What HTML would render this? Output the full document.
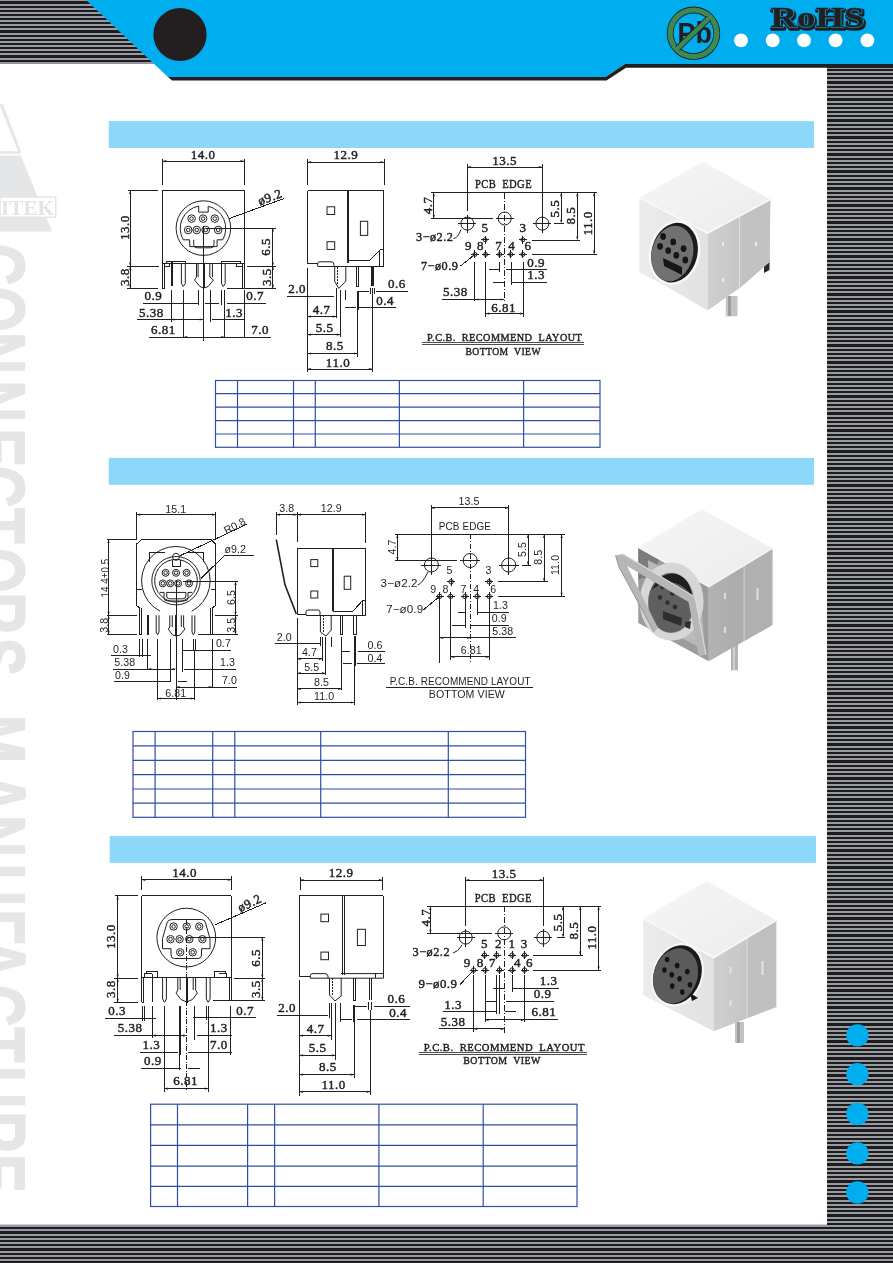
<!DOCTYPE html>
<html><head><meta charset="utf-8"><title>Mini DIN Connectors</title>
<style>
html,body{margin:0;padding:0;background:#fff;}
body{width:893px;height:1263px;overflow:hidden;position:relative;font-family:"Liberation Serif",serif;}
svg{position:absolute;left:0;top:0;display:block;will-change:transform;}
.d{stroke:#231f20;stroke-width:1;fill:none;}
.d path{shape-rendering:crispEdges;}
.t{font-family:"Liberation Serif",serif;font-weight:normal;font-size:13px;fill:#231f20;stroke:#231f20;stroke-width:0.45px;letter-spacing:0.5px;white-space:pre;}
.s{font-family:"Liberation Sans",sans-serif;font-size:10.6px;fill:#231f20;letter-spacing:0.1px;}
.tb{stroke:#2f4fa6;stroke-width:1.2;fill:none;}
</style></head>
<body>
<svg width="893" height="1263" viewBox="0 0 893 1263">
<defs>
<pattern id="st" x="0" y="0" width="10" height="17" patternUnits="userSpaceOnUse">
<rect width="10" height="17" fill="#201c1d"/>
<rect y="0" width="10" height="2" fill="#959ca3"/>
<rect y="4" width="10" height="2" fill="#959ca3"/>
<rect y="8" width="10" height="2" fill="#959ca3"/>
<rect y="12" width="10" height="2" fill="#959ca3"/>
</pattern>
<pattern id="st2" x="0" y="68" width="10" height="17" patternUnits="userSpaceOnUse">
<rect width="10" height="17" fill="#201c1d"/>
<rect y="0" width="10" height="2" fill="#959ca3"/>
<rect y="4" width="10" height="2" fill="#959ca3"/>
<rect y="8" width="10" height="2" fill="#959ca3"/>
<rect y="12" width="10" height="2" fill="#959ca3"/>
</pattern>
</defs>
<!-- ===== WATERMARK ===== -->
<g fill="#e5e6e8">
<path style="shape-rendering:auto" d="M0,104.2L3,104.2L21,151.2L18,151.2L0,106Z"/>
<rect x="0" y="151.2" width="20.7" height="2.5"/>
<path d="M0,155.5H20.7L52.2,231.6H0Z"/>
<rect x="0" y="197.1" width="55.7" height="20.1" fill="#fff" stroke="#e5e6e8" stroke-width="1.5"/>
<text x="27.5" y="214.5" text-anchor="middle" font-family="Liberation Serif" font-weight="bold" font-size="20" fill="#e3e4e6" textLength="53" lengthAdjust="spacingAndGlyphs">ITEK</text>
<text transform="rotate(90) scale(0.7,1)" x="348.0 409.4 474.1 542.7 611.3 665.1 725.4 782.3 845.6 910.9" y="32.5" font-family="Liberation Sans" font-weight="bold" font-size="84" stroke="#e5e6e8" stroke-width="1.2">CONNECTORS</text>
<text transform="rotate(90) scale(0.7,1)" x="1020.6 1103.3 1164.1 1234.1 1298.4 1339.7 1406.6 1466.9 1522.7 1587.0 1648.4" y="32.5" font-family="Liberation Sans" font-weight="bold" font-size="84" stroke="#e5e6e8" stroke-width="1.2">MANUFACTURE</text>
</g>
<!-- top-left stripes -->
<rect x="0" y="0" width="200" height="63.5" fill="#201c1d"/>
<path fill="#959ca3" d="M0,0H200V1H0ZM0,4H200V6H0ZM0,8H200V10H0ZM0,12H200V14H0ZM0,16H200V18H0ZM0,20H200V22H0ZM0,24H200V26H0ZM0,28H200V30H0ZM0,33H200V35H0ZM0,37H200V39H0ZM0,41H200V43H0ZM0,45H200V47H0ZM0,49H200V51H0ZM0,53H200V55H0ZM0,58H200V60H0ZM0,62H200V63.5H0Z"/>
<!-- right column stripes -->
<rect x="827" y="67" width="66" height="1196" fill="#201c1d"/>
<rect x="0" y="1224.8" width="893" height="38.2" fill="#201c1d"/>
<path fill="#959ca3" d="M827,68H893V69H827ZM827,71H893V73H827ZM827,75H893V77H827ZM827,79H893V81H827ZM827,84H893V86H827ZM827,88H893V90H827ZM827,92H893V94H827ZM827,96H893V98H827ZM827,101H893V103H827ZM827,105H893V107H827ZM827,109H893V111H827ZM827,113H893V115H827ZM827,117H893V119H827ZM827,122H893V124H827ZM827,126H893V128H827ZM827,130H893V132H827ZM827,134H893V136H827ZM827,139H893V141H827ZM827,143H893V145H827ZM827,147H893V149H827ZM827,151H893V153H827ZM827,156H893V158H827ZM827,160H893V162H827ZM827,164H893V166H827ZM827,168H893V170H827ZM827,173H893V175H827ZM827,177H893V179H827ZM827,181H893V183H827ZM827,185H893V187H827ZM827,190H893V192H827ZM827,194H893V196H827ZM827,198H893V200H827ZM827,202H893V204H827ZM827,207H893V209H827ZM827,211H893V213H827ZM827,215H893V217H827ZM827,219H893V221H827ZM827,224H893V226H827ZM827,228H893V230H827ZM827,232H893V234H827ZM827,236H893V238H827ZM827,241H893V243H827ZM827,245H893V247H827ZM827,249H893V251H827ZM827,253H893V255H827ZM827,258H893V260H827ZM827,262H893V264H827ZM827,266H893V268H827ZM827,270H893V272H827ZM827,274H893V276H827ZM827,279H893V281H827ZM827,283H893V285H827ZM827,287H893V289H827ZM827,291H893V293H827ZM827,296H893V298H827ZM827,300H893V302H827ZM827,304H893V306H827ZM827,308H893V310H827ZM827,313H893V315H827ZM827,317H893V319H827ZM827,321H893V323H827ZM827,325H893V327H827ZM827,330H893V332H827ZM827,334H893V336H827ZM827,338H893V340H827ZM827,342H893V344H827ZM827,347H893V349H827ZM827,351H893V353H827ZM827,355H893V357H827ZM827,359H893V361H827ZM827,364H893V366H827ZM827,368H893V370H827ZM827,372H893V374H827ZM827,376H893V378H827ZM827,381H893V383H827ZM827,385H893V387H827ZM827,389H893V391H827ZM827,393H893V395H827ZM827,398H893V400H827ZM827,402H893V404H827ZM827,406H893V408H827ZM827,410H893V412H827ZM827,415H893V417H827ZM827,419H893V421H827ZM827,423H893V425H827ZM827,427H893V429H827ZM827,432H893V434H827ZM827,436H893V438H827ZM827,440H893V442H827ZM827,444H893V446H827ZM827,448H893V450H827ZM827,453H893V455H827ZM827,457H893V459H827ZM827,461H893V463H827ZM827,465H893V467H827ZM827,470H893V472H827ZM827,474H893V476H827ZM827,478H893V480H827ZM827,482H893V484H827ZM827,487H893V489H827ZM827,491H893V493H827ZM827,495H893V497H827ZM827,499H893V501H827ZM827,504H893V506H827ZM827,508H893V510H827ZM827,512H893V514H827ZM827,516H893V518H827ZM827,521H893V523H827ZM827,525H893V527H827ZM827,529H893V531H827ZM827,533H893V535H827ZM827,538H893V540H827ZM827,542H893V544H827ZM827,546H893V548H827ZM827,550H893V552H827ZM827,555H893V557H827ZM827,559H893V561H827ZM827,563H893V565H827ZM827,567H893V569H827ZM827,572H893V574H827ZM827,576H893V578H827ZM827,580H893V582H827ZM827,584H893V586H827ZM827,589H893V591H827ZM827,593H893V595H827ZM827,597H893V599H827ZM827,601H893V603H827ZM827,606H893V608H827ZM827,610H893V612H827ZM827,614H893V616H827ZM827,618H893V620H827ZM827,622H893V624H827ZM827,627H893V629H827ZM827,631H893V633H827ZM827,635H893V637H827ZM827,639H893V641H827ZM827,644H893V646H827ZM827,648H893V650H827ZM827,652H893V654H827ZM827,656H893V658H827ZM827,661H893V663H827ZM827,665H893V667H827ZM827,669H893V671H827ZM827,673H893V675H827ZM827,678H893V680H827ZM827,682H893V684H827ZM827,686H893V688H827ZM827,690H893V692H827ZM827,695H893V697H827ZM827,699H893V701H827ZM827,703H893V705H827ZM827,707H893V709H827ZM827,712H893V714H827ZM827,716H893V718H827ZM827,720H893V722H827ZM827,724H893V726H827ZM827,729H893V731H827ZM827,733H893V735H827ZM827,737H893V739H827ZM827,741H893V743H827ZM827,746H893V748H827ZM827,750H893V752H827ZM827,754H893V756H827ZM827,758H893V760H827ZM827,763H893V765H827ZM827,767H893V769H827ZM827,771H893V773H827ZM827,775H893V777H827ZM827,780H893V782H827ZM827,784H893V786H827ZM827,788H893V790H827ZM827,792H893V794H827ZM827,796H893V798H827ZM827,801H893V803H827ZM827,805H893V807H827ZM827,809H893V811H827ZM827,813H893V815H827ZM827,818H893V820H827ZM827,822H893V824H827ZM827,826H893V828H827ZM827,830H893V832H827ZM827,835H893V837H827ZM827,839H893V841H827ZM827,843H893V845H827ZM827,847H893V849H827ZM827,852H893V854H827ZM827,856H893V858H827ZM827,860H893V862H827ZM827,864H893V866H827ZM827,869H893V871H827ZM827,873H893V875H827ZM827,877H893V879H827ZM827,881H893V883H827ZM827,886H893V888H827ZM827,890H893V892H827ZM827,894H893V896H827ZM827,898H893V900H827ZM827,903H893V905H827ZM827,907H893V909H827ZM827,911H893V913H827ZM827,915H893V917H827ZM827,920H893V922H827ZM827,924H893V926H827ZM827,928H893V930H827ZM827,932H893V934H827ZM827,937H893V939H827ZM827,941H893V943H827ZM827,945H893V947H827ZM827,949H893V951H827ZM827,954H893V956H827ZM827,958H893V960H827ZM827,962H893V964H827ZM827,966H893V968H827ZM827,970H893V972H827ZM827,975H893V977H827ZM827,979H893V981H827ZM827,983H893V985H827ZM827,987H893V989H827ZM827,992H893V994H827ZM827,996H893V998H827ZM827,1000H893V1002H827ZM827,1004H893V1006H827ZM827,1009H893V1011H827ZM827,1013H893V1015H827ZM827,1017H893V1019H827ZM827,1021H893V1023H827ZM827,1026H893V1028H827ZM827,1030H893V1032H827ZM827,1034H893V1036H827ZM827,1038H893V1040H827ZM827,1043H893V1045H827ZM827,1047H893V1049H827ZM827,1051H893V1053H827ZM827,1055H893V1057H827ZM827,1060H893V1062H827ZM827,1064H893V1066H827ZM827,1068H893V1070H827ZM827,1072H893V1074H827ZM827,1077H893V1079H827ZM827,1081H893V1083H827ZM827,1085H893V1087H827ZM827,1089H893V1091H827ZM827,1094H893V1096H827ZM827,1098H893V1100H827ZM827,1102H893V1104H827ZM827,1106H893V1108H827ZM827,1111H893V1113H827ZM827,1115H893V1117H827ZM827,1119H893V1121H827ZM827,1123H893V1125H827ZM827,1127H893V1129H827ZM827,1132H893V1134H827ZM827,1136H893V1138H827ZM827,1140H893V1142H827ZM827,1144H893V1146H827ZM827,1149H893V1151H827ZM827,1153H893V1155H827ZM827,1157H893V1159H827ZM827,1161H893V1163H827ZM827,1166H893V1168H827ZM827,1170H893V1172H827ZM827,1174H893V1176H827ZM827,1178H893V1180H827ZM827,1183H893V1185H827ZM827,1187H893V1189H827ZM827,1191H893V1193H827ZM827,1195H893V1197H827ZM827,1200H893V1202H827ZM827,1204H893V1206H827ZM827,1208H893V1210H827ZM827,1212H893V1214H827ZM827,1217H893V1219H827ZM827,1221H893V1223H827ZM0,1225H893V1227H0ZM0,1229H893V1231H0ZM0,1234H893V1236H0ZM0,1238H893V1240H0ZM0,1242H893V1244H0ZM0,1246H893V1248H0ZM0,1251H893V1253H0ZM0,1255H893V1257H0ZM0,1259H893V1261H0ZM0,1263H893V1263H0Z"/>
<!-- header blue -->
<path d="M86,0 L893,0 L893,64 L625,64 L605.5,77 L168,77 Z" fill="#00aeef"/>
<path d="M168,77 L605.5,77 L625,64 L893,64 L893,67.8 L626,67.8 L606.5,80.6 L172,80.6 Z" fill="#231f20"/>
<circle cx="180" cy="34.5" r="26.6" fill="#231f20"/>
<!-- Pb logo -->
<circle cx="693.5" cy="33.3" r="23.3" fill="none" stroke="#231f20" stroke-width="6.8"/>
<circle cx="693.5" cy="33.3" r="23.3" fill="none" stroke="#3b8a56" stroke-width="5.2"/>
<text x="677.6" y="42.9" font-family="Liberation Sans" font-weight="bold" font-size="29.5" fill="#231f20" textLength="34.2" lengthAdjust="spacingAndGlyphs">Pb</text>
<line x1="709" y1="18.2" x2="677.5" y2="48.5" stroke="#231f20" stroke-width="6.2"/>
<line x1="709.6" y1="17.6" x2="676.9" y2="49.1" stroke="#3b8a56" stroke-width="4.6"/>
<!-- RoHS -->
<g font-family="Liberation Serif" font-weight="bold" font-size="30" text-anchor="start">
<text x="771.5" y="28.5" textLength="94" lengthAdjust="spacingAndGlyphs" fill="#231f20" stroke="#231f20" stroke-width="3.6" stroke-linejoin="round">RoHS</text>
<text x="770.5" y="27.3" textLength="94" lengthAdjust="spacingAndGlyphs" fill="#231f20" stroke="#00aeef" stroke-width="1.6" stroke-linejoin="round">RoHS</text>
<text x="770.5" y="27.3" textLength="94" lengthAdjust="spacingAndGlyphs" fill="#231f20" stroke="#231f20" stroke-width="0.4">RoHS</text>
</g>
<!-- white dots -->
<g fill="#fff">
<circle cx="741" cy="40.4" r="6.9"/><circle cx="772.7" cy="40.4" r="6.9"/><circle cx="804" cy="40.4" r="6.9"/><circle cx="835.6" cy="40.4" r="6.9"/><circle cx="867.4" cy="40.4" r="6.9"/>
</g>
<!-- right blue dots -->
<g fill="#00aeef">
<circle cx="857.4" cy="1035.4" r="11.2"/><circle cx="857.4" cy="1074.3" r="11.2"/><circle cx="857.4" cy="1114" r="11.2"/><circle cx="857.4" cy="1153.4" r="11.2"/><circle cx="857.4" cy="1192.5" r="11.2"/>
</g>
<!-- section bands -->
<rect x="108.8" y="121.1" width="705.2" height="26.9" fill="#8dd8f8"/>
<rect x="108.8" y="457.9" width="705.2" height="26.9" fill="#8dd8f8"/>
<rect x="109.7" y="836.1" width="706.3" height="26.8" fill="#8dd8f8"/>
<!-- TABLES -->
<g class="tb">
<rect x="215.5" y="380.5" width="384.5" height="66.8"/>
<path d="M215.5,393.7H600M215.5,407.2H600M215.5,420.6H600M215.5,434H600M237.5,380.5V447.3M293.5,380.5V447.3M315.3,380.5V447.3M399.4,380.5V447.3M523.6,380.5V447.3"/>
<rect x="133" y="731.5" width="392.5" height="85.8"/>
<path d="M133,745.9H525.5M133,760.3H525.5M133,774.6H525.5M133,789H525.5M133,803.1H525.5M155.1,731.5V817.3M212.7,731.5V817.3M234.8,731.5V817.3M320.7,731.5V817.3M448.3,731.5V817.3"/>
<rect x="150.6" y="1104.2" width="426.4" height="102.3"/>
<path d="M150.6,1124.9H577M150.6,1145.4H577M150.6,1166.1H577M150.6,1186.3H577M177.5,1104.2V1206.5M247.6,1104.2V1206.5M274.6,1104.2V1206.5M378.9,1104.2V1206.5M483.2,1104.2V1206.5"/>
</g>
<!-- ===== SECTION 1 DRAWINGS ===== -->
<g class="d">
<path d="M162.8,158.7V185.3M244,158.7V185.3M162.8,161.1H244"/>
<path d="M162.4,190.4H244.4M162.4,190.4V288.4M244.4,190.4V288.4M162.4,263.2H244.4"/>
<path d="M166.2,263.2V261.3H185.9V263.2M221.5,263.2V261.3H240.6V263.2"/>
<path d="M164.8,263.2V288.4H162.4M164.8,266H169.9V263.2M242.8,263.2V288.4H244.4M242.8,266H236.9V263.2"/>
<path d="M171.8,261.3V286.3" stroke-width="1.8"/>
<path style="shape-rendering:auto" d="M181.4,263.2V283.6L183.2,286.5L185.3,283.6V263.2"/>
<path style="shape-rendering:auto" d="M196.5,263.2V277.2L194.5,280L200,286.5L203.4,288M198.1,263.2V277"/>
<path d="M203.6,226V341"/>
<path d="M203.9,263.2V288" stroke-width="1.8"/>
<path style="shape-rendering:auto" d="M209.8,263.2V277L213.5,280L208,286.5L204,288M212.4,263.2V277"/>
<path style="shape-rendering:auto" d="M221.5,263.2V283.6L223.3,286.5L225.2,283.6V263.2"/>
<path d="M128,190.4H157.8M130.2,190.4V288.3M127,266.1H159.4M127,288.3H158"/>
<circle cx="203.4" cy="228.1" r="27.3"/>
<path style="shape-rendering:auto" d="M208.2,206.25A22.75,22.75 0 0 1 222.7,239.8H217.1V246.6H189.7V239.8H183.3A22.75,22.75 0 0 1 198.7,206.06V212.1H208.2Z"/>
<path style="shape-rendering:auto" d="M193.7,239.8V244.5Q193.7,247.8 197,247.8H210.7Q214,247.8 214,244.5V239.8"/>
<path d="M229,218.6L284.4,198.4"/>
<path d="M205.7,228H276.3M272.9,228V288.3M247,266.1H276.3M226.9,288.3H276.3"/>
<path d="M143.3,303.4H198.3M204.7,303.4H219M226.5,303.4H266.2"/>
<path d="M137.2,319.5H202.7M211.8,319.5H244"/>
<path d="M149.3,337.1H271.3"/>
<path d="M171.1,290.3V321.6M183.6,290V337.5M198.3,290V305M210.8,290V321.6M221.9,290V305M224.9,290V337.5M244,290V337.5"/>
</g>
<g class="d" stroke-width="0.8">
<circle cx="191.6" cy="218.6" r="3.8"/><circle cx="191.6" cy="218.6" r="1.8"/>
<circle cx="203.1" cy="218.6" r="3.8"/><circle cx="203.1" cy="218.6" r="1.8"/>
<circle cx="214.8" cy="218.6" r="3.8"/><circle cx="214.8" cy="218.6" r="1.8"/>
<circle cx="188.2" cy="230" r="3.8"/><circle cx="188.2" cy="230" r="1.8"/>
<circle cx="196.7" cy="230" r="3.8"/><circle cx="196.7" cy="230" r="1.8"/>
<circle cx="205.7" cy="230" r="3.8"/><circle cx="205.7" cy="230" r="1.8"/>
<circle cx="218.2" cy="230" r="3.8"/><circle cx="218.2" cy="230" r="1.8"/>
</g>
<g class="t" text-anchor="middle">
<text x="203.1" y="158.7">14.0</text>
<text x="153.3" y="300.4">0.9</text>
<text x="255.1" y="300.4">0.7</text>
<text x="151.3" y="316.9">5.38</text>
<text x="234" y="316.9">1.3</text>
<text x="163.4" y="334.3">6.81</text>
<text x="260.2" y="334.3">7.0</text>
<text transform="translate(125,227.6) rotate(-90)" y="4">13.0</text>
<text transform="translate(125,277.2) rotate(-90)" y="4">3.8</text>
<text transform="translate(266.2,246.8) rotate(-90)" y="4">6.5</text>
<text transform="translate(267.2,277) rotate(-90)" y="4">3.5</text>
<text transform="translate(270,197.4) rotate(-20)" y="4">ø9.2</text>
</g>
<!-- side view -->
<g class="d">
<path d="M307.5,159.1V185.3M384.1,159.1V185.3M307.5,162.2H384.1"/>
<path d="M307.5,190.7H383.5M307.5,190.7V263.3H317.6M383.5,190.7V266.5"/>
<path d="M347.9,190.7V263" stroke-width="1.8"/>
<rect x="327" y="206.8" width="7.7" height="7.7"/><rect x="327" y="241.7" width="7.7" height="7.7"/>
<rect x="360.4" y="221.3" width="7.3" height="14.1"/>
<path d="M348.5,260.8H369.4L381,249.1H383.5M379.5,250.5V266.5"/>
<path style="shape-rendering:auto" d="M317.6,266.5V263.5Q317.6,261.8 320,261.8H331Q334,261.8 334,264.5V266.5"/>
<path d="M317.6,266.5H383.5"/>
<path style="shape-rendering:auto" d="M334.7,266.5V281.3L338.8,288.4L345.8,281.3V266.5"/>
<path d="M337,266.5V285" stroke-dasharray="2,1"/>
<path d="M356.5,266.5V286.8H358.4V266.5"/>
<path d="M372.3,266.5V286" stroke-width="2.6"/>
<path d="M307.4,268V372.3"/>
<path d="M287,296.2H334M356.8,291.2H369M376,291.2H407.8M345,307.2H356M359,307.2H396"/>
<path d="M357.6,291.5V310.4" stroke-width="2.2"/>
<path d="M307.4,316.6H336.4M307.4,334.7H340.4M307.4,353.5H357.6M307.4,369.1H372.5"/>
<path d="M336.4,288V318M340.4,290V337M357.6,310V357M372.5,288V372M345.8,290V300M370.6,288V294M374,288V294"/>
</g>
<g class="t" text-anchor="middle">
<text x="345.8" y="159.1">12.9</text>
<text x="297.2" y="293.1">2.0</text>
<text x="396.8" y="288.4">0.6</text>
<text x="385" y="304.9">0.4</text>
<text x="321.5" y="314.3">4.7</text>
<text x="324.7" y="331.5">5.5</text>
<text x="334.9" y="350.3">8.5</text>
<text x="338" y="366.8">11.0</text>
</g>
<!-- PCB layout -->
<g class="d">
<path d="M467.4,167.1H542.4M467.4,164V210.5M542.4,164V216.5"/>
<path d="M431.2,192.7H596.7M431.2,218.5H492.6M433.8,192.7V218.5"/>
<path d="M504.7,192.7V302" stroke-dasharray="6,2,1,2"/>
<circle cx="467.4" cy="223.6" r="6.5"/><circle cx="504.7" cy="218.5" r="6.5"/><circle cx="542.4" cy="223.6" r="6.5"/>
<path d="M458.4,223.6H476.4M467.4,214.6V232.6M495.7,218.5H513.7M542.4,214.6V232.6M533.4,223.6H551.4"/>
<path style="shape-rendering:auto" d="M453.5,238.5Q458,238 461,229.5"/>
<path d="M561.2,192.7V221.6M554.2,223.3H563.7M577.3,192.7V239M532.3,240.1H579.9M594.1,192.7V253M532.3,254.4H596.7"/>
<path d="M460.4,266.2L474.9,254.4"/>
<path d="M474.9,262V300.5M485.6,262V316.6M499.5,262V272.3M511.4,262V285.4M523.5,262V316.6"/>
<path d="M488.6,269.6H499.5M505.7,269.6H547.1M492.6,282.3H504.3M511.4,282.3H547.1M442.3,299.5H504.3M485.6,313.6H523.5"/>
<path d="M422.1,342.8H583.8M422.1,344.8H583.8" stroke-width="0.8"/>
</g>
<g class="d" stroke-width="0.8">
<path d="M481,239.7H489M485,235.7V243.7M518.9,239.7H526.9M522.9,235.7V243.7"/>
<path d="M470.9,254.4H478.9M474.9,250.4V258.4M481.6,254.4H489.6M485.6,250.4V258.4M495.7,254.4H503.7M499.7,250.4V258.4M506.8,254.4H514.8M510.8,250.4V258.4M518.9,254.4H526.9M522.9,250.4V258.4"/>
<circle cx="485" cy="239.7" r="2"/><circle cx="522.9" cy="239.7" r="2"/>
<circle cx="474.9" cy="254.4" r="2"/><circle cx="485.6" cy="254.4" r="2"/><circle cx="499.7" cy="254.4" r="2"/><circle cx="510.8" cy="254.4" r="2"/><circle cx="522.9" cy="254.4" r="2"/>
</g>
<g class="t" text-anchor="middle">
<text x="504.7" y="164.5">13.5</text>
<text x="503.5" y="188.3" textLength="57" lengthAdjust="spacingAndGlyphs">PCB&#160; EDGE</text>
<text transform="translate(428.1,205.4) rotate(-90)" y="4">4.7</text>
<text x="434.7" y="240.7" textLength="37.3" lengthAdjust="spacingAndGlyphs" style="font-weight:normal">3−ø2.2</text>
<text x="485" y="231.6" style="font-weight:normal">5</text>
<text x="522.9" y="231.6" style="font-weight:normal">3</text>
<text x="468.5" y="250.4" style="font-weight:normal">9</text>
<text x="480.5" y="250.4" style="font-weight:normal">8</text>
<text x="498.7" y="250.4" style="font-weight:normal">7</text>
<text x="511.8" y="250.4" style="font-weight:normal">4</text>
<text x="527.9" y="250.4" style="font-weight:normal">6</text>
<text transform="translate(555.1,208.5) rotate(-90)" y="4" style="font-weight:normal">5.5</text>
<text transform="translate(571.3,215.5) rotate(-90)" y="4" style="font-weight:normal">8.5</text>
<text transform="translate(588.3,223.3) rotate(-90)" y="4" style="font-weight:normal">11.0</text>
<text x="439.7" y="270.2" textLength="37.4" lengthAdjust="spacingAndGlyphs" style="font-weight:normal">7−ø0.9</text>
<text x="536" y="267.2">0.9</text>
<text x="536" y="279.3">1.3</text>
<text x="455.4" y="296.4">5.38</text>
<text x="503.7" y="311.6">6.81</text>
<text x="504.7" y="340.8" textLength="155.2" lengthAdjust="spacingAndGlyphs" style="font-size:11px">P.C.B.&#160; RECOMMEND&#160; LAYOUT</text>
<text x="503.2" y="354.5" textLength="75.6" lengthAdjust="spacingAndGlyphs" style="font-size:11px">BOTTOM&#160; VIEW</text>
</g>
<!-- ===== SECTION 2 DRAWINGS ===== -->
<g class="d" stroke-width="0.8">
<path d="M136.6,511.9V539.5M215.6,511.9V539.5M136.6,514.7H215.6"/>
<path d="M106.7,539.5H137M108.6,539.5V634.8M106.5,615.3H136.5M106.5,634.8H136.5M214.5,615.3H238M198.2,634.8H238M235.5,581.3V634.8M183.2,581.3H238"/>
<path d="M141.7,539.5H210.9L215.6,544V605.6L212,608V634.8H210.5V608M141.7,539.5L136.6,544V605.6L139.8,608V634.8H141.9V608"/>
<path d="M136.6,589.3H141.7M215.6,589.3H210.9"/>
<path d="M149.1,562V552H165M187,552H203.4V562"/>
<path style="shape-rendering:auto" d="M160,611.2A34.3,34.3 0 1 1 191.7,611.2"/>
<circle cx="176" cy="580.7" r="24.2"/>
<circle cx="176" cy="580.7" r="21.3"/>
<circle cx="176" cy="556.8" r="3.5"/>
<path d="M172.3,559.5V566.9H180.5V559.5"/>
<path style="shape-rendering:auto" d="M159.8,592.4H164V597.8Q164,601 168,601H184Q188,601 188,597.8V592.4H192.2"/>
<path style="shape-rendering:auto" d="M166.7,592.4V596Q166.7,598.8 169.5,598.8H183Q185.9,598.8 185.9,596V592.4Z"/>
<path d="M176.5,581V700"/>
<path d="M147.9,615.3V634.8" stroke-width="1.8"/>
<path style="shape-rendering:auto" d="M156.2,615.3V632L157.6,634.8L159,632V615.3"/>
<path style="shape-rendering:auto" d="M169.8,615.3V627L168.3,629L172.3,634.8L176.3,636M172.3,615.3V627"/>
<path d="M176.3,615.3V636" stroke-width="1.8"/>
<path style="shape-rendering:auto" d="M183.6,615.3V627L185,629L180.3,634.8L176.3,636M181.3,615.3V627"/>
<path style="shape-rendering:auto" d="M192,615.3V632L193.4,634.8L194.8,632V615.3"/>
<path d="M180,555.7L247.5,523.9M224.7,555.3H253.8M224.7,555.3L200.9,578.5"/>
<path d="M139.2,638.5V656.6M142.3,638.5V656.6M147.6,638.5V670M157.1,638.5V700M170.4,638.5V682.3M182.8,638.5V671.8M193.4,638.5V651M195,638.5V651M194.2,651V700M212.3,638.5V688"/>
<path d="M111.4,655.6H151.4M182.8,650.3H231.4M113.3,669H175.2M183.8,669H236.1M114.3,681.3H171.4M178,681.3H186.6M177.1,687.1H237.1M158.1,698.5H194.2"/>
</g>
<g class="d" stroke-width="0.7">
<circle cx="165.6" cy="572.8" r="3.5"/><circle cx="165.6" cy="572.8" r="1.8"/>
<circle cx="176" cy="572.8" r="3.5"/><circle cx="176" cy="572.8" r="1.8"/>
<circle cx="186.6" cy="572.8" r="3.5"/><circle cx="186.6" cy="572.8" r="1.8"/>
<circle cx="162.8" cy="583.4" r="3.5"/><circle cx="162.8" cy="583.4" r="1.8"/>
<circle cx="170.2" cy="583.4" r="3.5"/><circle cx="170.2" cy="583.4" r="1.8"/>
<circle cx="178.1" cy="583.4" r="3.5"/><circle cx="178.1" cy="583.4" r="1.8"/>
<circle cx="189" cy="583.4" r="3.5"/><circle cx="189" cy="583.4" r="1.8"/>
</g>
<g class="s" text-anchor="middle">
<text x="175.8" y="512.5">15.1</text>
<text transform="translate(104.8,578.1) rotate(-90)" y="3.8" textLength="39" lengthAdjust="spacingAndGlyphs">14.4±0.5</text>
<text transform="translate(234.7,525.7) rotate(-27.5)" y="3.8">R0.8</text>
<text x="235.2" y="552.5">ø9.2</text>
<text transform="translate(231.4,597.6) rotate(-90)" y="3.8">6.5</text>
<text transform="translate(103.8,625.2) rotate(-90)" y="3.8">3.8</text>
<text transform="translate(231.4,625.2) rotate(-90)" y="3.8">3.5</text>
<text x="120.6" y="652.8">0.3</text>
<text x="223.4" y="647.1">0.7</text>
<text x="124.7" y="666.1">5.38</text>
<text x="227.5" y="666.1">1.3</text>
<text x="122.5" y="678.5">0.9</text>
<text x="229.4" y="684.2">7.0</text>
<text x="175.8" y="696.6">6.81</text>
</g>
<!-- side view 2 -->
<g class="d" stroke-width="0.8">
<path d="M276.3,514.7H365.7M276.3,512V535.3M297.2,512V542.2M365.7,512V543"/>
<path d="M297.2,548.9H365.7M297.2,548.9V614.5M365.7,548.9V615"/>
<path d="M332.9,548.9V611" stroke-width="1.6"/>
<rect x="310.8" y="559.6" width="7" height="7"/><rect x="310.8" y="591" width="7" height="7"/>
<rect x="344.2" y="576.2" width="6.5" height="13.1"/>
<path d="M333,611H353L362.5,600.6H365.7M362.5,600.6V615"/>
<path style="shape-rendering:auto" d="M306,615V611.5Q306,610 308,610H318Q320,610 320,612V615"/>
<path d="M297.2,614.5H306M306,615H365.7"/>
<path style="shape-rendering:auto" d="M276.3,539.6L285,584.9L296.3,614" stroke-width="1.6"/>
<path style="shape-rendering:auto" d="M320.4,615V632L326,636L331.2,630V615"/>
<path d="M323,615V632" stroke-dasharray="2,1"/>
<path d="M340.5,615V634.5H342V615"/>
<path d="M353.5,615V634.5H356V615"/>
<path d="M297.2,618V705M320.4,637V646M322.5,637V661M325.6,637V675M331.2,637V647M341.6,637V690M354.7,665V705"/>
<path d="M275.4,643.3H320.4M341.6,651.1H350M358,651.1H385M343.4,663.8H352M357,663.8H385"/>
<path d="M354.7,636.3V665.9" stroke-width="2.2"/>
<path d="M297.2,658.9H322.5M297.2,673.2H325.6M297.2,688.9H341.6M297.2,702.5H354.7"/>
</g>
<g class="s" text-anchor="middle">
<text x="286.8" y="512.3">3.8</text>
<text x="331.2" y="512.3">12.9</text>
<text x="284.2" y="640.6">2.0</text>
<text x="375" y="649.4">0.6</text>
<text x="375" y="661.5">0.4</text>
<text x="309.4" y="656.3">4.7</text>
<text x="311.7" y="670.8">5.5</text>
<text x="321.6" y="685.9">8.5</text>
<text x="324.2" y="699.9">11.0</text>
</g>
<!-- PCB 2 -->
<g class="d" stroke-width="0.8">
<path d="M431,507.9H508.7M431,505V557.2M508.7,505V559.4"/>
<path d="M394.7,534.3H564.9M394.7,560.5H456.7M397.4,534.3V560.5"/>
<path d="M470.9,534.3V663" stroke-dasharray="5,2,1,2"/>
<circle cx="431.4" cy="565" r="7"/><circle cx="470.2" cy="560.5" r="7"/><circle cx="508.7" cy="565" r="7"/>
<path d="M421.4,565H441.4M431.4,555V575M460.2,560.5H480.2M498.7,565H518.7M508.7,555V575"/>
<path style="shape-rendering:auto" d="M417.6,585Q422,584 428,572"/>
<path d="M528,534.3V565M521.7,565H530.7M544.1,534.3V581.8M498.2,581.8H547.5M561.6,534.3V596.4M498.2,596.4H564.9"/>
<path d="M423.2,610L439.5,596.4"/>
<path d="M439.5,600V663M450.7,600V660.2M465,600V627.7M477.1,600V615.4M489.2,600V660"/>
<path d="M457.9,612.1H465M478,612.1H509.4M452.3,625H465M471.3,625H509.4M439.5,637.8H516.1M450.7,656.9H489.2"/>
<path d="M386.2,687.5H532.9" stroke-width="1.4"/>
</g>
<g class="d" stroke-width="0.8">
<path d="M447.1,581.8H455.1M451.1,577.8V585.8M485.2,581.8H493.2M489.2,577.8V585.8"/>
<path d="M435.5,596.4H443.5M439.5,592.4V600.4M446.7,596.4H454.7M450.7,592.4V600.4M461,596.4H469M465,592.4V600.4M473.1,596.4H481.1M477.1,592.4V600.4M485.2,596.4H493.2M489.2,592.4V600.4"/>
<circle cx="451.1" cy="581.8" r="2.2"/><circle cx="489.2" cy="581.8" r="2.2"/>
<circle cx="439.5" cy="596.4" r="2.2"/><circle cx="450.7" cy="596.4" r="2.2"/><circle cx="465" cy="596.4" r="2.2"/><circle cx="477.1" cy="596.4" r="2.2"/><circle cx="489.2" cy="596.4" r="2.2"/>
</g>
<g class="s" text-anchor="middle">
<text x="469.1" y="505.2">13.5</text>
<text x="464.9" y="529.9" textLength="52.2" lengthAdjust="spacingAndGlyphs">PCB EDGE</text>
<text transform="translate(391.8,547.1) rotate(-90)" y="3.8">4.7</text>
<text x="399.1" y="587.4" textLength="37" lengthAdjust="spacingAndGlyphs">3−ø2.2</text>
<text x="449.4" y="574">5</text>
<text x="488.5" y="574">3</text>
<text x="433.2" y="593">9</text>
<text x="445.5" y="593">8</text>
<text x="463.5" y="593">7</text>
<text x="476.2" y="593">4</text>
<text x="493.3" y="593">6</text>
<text x="404.7" y="613.2" textLength="37" lengthAdjust="spacingAndGlyphs">7−ø0.9</text>
<text transform="translate(521.7,549.4) rotate(-90)" y="3.8">5.5</text>
<text transform="translate(538.5,557.2) rotate(-90)" y="3.8">8.5</text>
<text transform="translate(555.3,565) rotate(-90)" y="3.8">11.0</text>
<text x="500.4" y="608.7">1.3</text>
<text x="499.3" y="621.7">0.9</text>
<text x="502.7" y="634.5">5.38</text>
<text x="471.3" y="653.5">6.81</text>
<text x="460.2" y="684.9" textLength="141.1" lengthAdjust="spacingAndGlyphs">P.C.B. RECOMMEND LAYOUT</text>
<text x="466.9" y="698.3" textLength="76.1" lengthAdjust="spacingAndGlyphs">BOTTOM VIEW</text>
</g>
<!-- ===== SECTION 3 DRAWINGS ===== -->
<g class="d">
<path d="M141.7,879.8H231.4M141.7,876V890.2M231.4,876V890.2"/>
<path d="M141.7,895.9H231.4M141.7,895.9V1002.3M231.4,895.9V1000.3M141.7,977.7H231.4"/>
<path d="M144.6,977.7V973.7H152M146,973.7V971.5H157V977.7M226.5,977.7V973.7H219M225,973.7V971.5H214V977.7"/>
<path d="M143.5,977.7V1002.3H141.7M229.6,977.7V1000.3H231.4"/>
<path d="M114.5,895.9H138.3M117.7,895.9V1002.3M114.1,978.1H138.3M114.1,1002.3H138.3"/>
<path d="M234,978.1H265.3M212.9,1000.3H265.3M262.3,937.2V1000.3M186.7,937.2H265.3"/>
<circle cx="186.3" cy="937.6" r="29.4"/>
<path style="shape-rendering:auto" d="M172,919.5H201.5Q205,919.5 205.5,923L210,938.6V948.7H201.5V955Q201.5,958.5 198,958.5H174.5Q171,958.5 171,955V948.7H162.5V938.6L167,923Q167.5,919.5 172,919.5Z"/>
<path d="M214.9,924.9L266.3,902.7"/>
<path d="M186.7,920V1090" stroke-dasharray="5,1.5,1,1.5"/>
<path d="M152.4,973.7V1002.3" stroke-width="1.8"/>
<path style="shape-rendering:auto" d="M162.6,977.7V999L164.5,1002.3L166.4,999V977.7"/>
<path style="shape-rendering:auto" d="M177.8,977.7V990L176,993L181,999.5L186.7,1002M180.2,977.7V990"/>
<path d="M186.7,977.7V1003" stroke-width="1.8"/>
<path style="shape-rendering:auto" d="M195.6,977.7V990L197.4,993L192.4,999.5L186.7,1002M193.2,977.7V990"/>
<path style="shape-rendering:auto" d="M206.3,977.7V999L208.2,1002.3L210.1,999V977.7"/>
<path d="M142.3,1006V1021M144.3,1006V1021M152.4,1006V1038M164.5,1006V1092M179,1006V1070M180.6,1006V1055M194.7,1006V1040M206.8,1006V1020M208.8,1006V1092M230.6,1006V1055"/>
<path d="M105,1018.9H156.4M192.7,1017.4H256.2M114.1,1035.6H184.7M196.8,1035.6H232M140.3,1052.3H178.2M187.7,1052.3H232M141.3,1068.4H180.6M187.7,1068.4H199.8M164.5,1088.6H208.4"/>
</g>
<g class="d" stroke-width="0.8">
<circle cx="173.6" cy="926.5" r="3.7"/><circle cx="173.6" cy="926.5" r="1.8"/>
<circle cx="186.7" cy="926.5" r="3.7"/><circle cx="186.7" cy="926.5" r="1.8"/>
<circle cx="199.2" cy="926.5" r="3.7"/><circle cx="199.2" cy="926.5" r="1.8"/>
<circle cx="170.5" cy="939.2" r="3.7"/><circle cx="170.5" cy="939.2" r="1.8"/>
<circle cx="179.6" cy="939.2" r="3.7"/><circle cx="179.6" cy="939.2" r="1.8"/>
<circle cx="189.3" cy="939.2" r="3.7"/><circle cx="189.3" cy="939.2" r="1.8"/>
<circle cx="202.4" cy="939.2" r="3.7"/><circle cx="202.4" cy="939.2" r="1.8"/>
<circle cx="180.2" cy="952.3" r="3.7"/><circle cx="180.2" cy="952.3" r="1.8"/>
<circle cx="192.7" cy="952.3" r="3.7"/><circle cx="192.7" cy="952.3" r="1.8"/>
</g>
<g class="t" text-anchor="middle">
<text x="184.7" y="876.5">14.0</text>
<text transform="translate(111.1,936.6) rotate(-90)" y="4">13.0</text>
<text transform="translate(111.1,989.2) rotate(-90)" y="4">3.8</text>
<text transform="translate(256.2,957.8) rotate(-90)" y="4">6.5</text>
<text transform="translate(256.2,989.2) rotate(-90)" y="4">3.5</text>
<text transform="translate(249.6,903.3) rotate(-25.6)" y="4">ø9.2</text>
<text x="117.1" y="1015.4">0.3</text>
<text x="245.1" y="1015.4">0.7</text>
<text x="130.2" y="1031.6">5.38</text>
<text x="218.9" y="1031.6">1.3</text>
<text x="151.4" y="1048.7">1.3</text>
<text x="218.9" y="1048.7">7.0</text>
<text x="152.8" y="1064.8">0.9</text>
<text x="185.7" y="1085">6.81</text>
</g>
<!-- side view 3 -->
<g class="d">
<path d="M300,880H382.5M300,877V890.4M382.5,877V890.4"/>
<path d="M299.4,895.5H383.4M299.4,895.5V976.3H310.3M383.4,895.5V978.2"/>
<path d="M342.4,895.5V975M344.2,895.5V975"/>
<rect x="320.9" y="914.1" width="7.6" height="7.6"/><rect x="320.9" y="952.1" width="7.6" height="7.6"/>
<rect x="357.4" y="929.3" width="8" height="16.2"/>
<path style="shape-rendering:auto" d="M310.3,978.2V975.5Q310.3,973.6 313,973.6H325Q327.5,973.6 328,976V978.2M341,973.6H383.4M310.3,978.2H383.4M375.5,973.6V978.2"/>
<path style="shape-rendering:auto" d="M329.5,978.2V995L335,1001L341.2,996V978.2"/>
<path d="M332,978.2V996" stroke-dasharray="2,1"/>
<path d="M353.2,978.2V1000H355.2V978.2"/>
<path d="M369,978.2V1000M371.6,978.2V1000"/>
<path d="M299.4,979.7V1095.6"/>
<path d="M276.6,1015.4H327.9M354.5,1006.3H367M374,1006.3H409.6M340.3,1019.2H352M357,1019.2H409.6"/>
<path d="M354.2,1005.3V1022.4" stroke-width="2.2"/>
<path d="M299.4,1035.7H331.2M299.4,1055.3H335.5M299.4,1074.7H354.2M299.4,1091.8H370.3"/>
<path d="M329,1003V1018M331.2,1003V1040M335.5,1003V1060M340.3,1003V1022M354.2,1022V1078M368.5,1002V1010M371.8,1002V1010M370.3,1010V1095"/>
</g>
<g class="t" text-anchor="middle">
<text x="341.2" y="877.1">12.9</text>
<text x="287.1" y="1012">2.0</text>
<text x="396.3" y="1002.9">0.6</text>
<text x="398.2" y="1016.7">0.4</text>
<text x="315.6" y="1032.9">4.7</text>
<text x="317.5" y="1052.2">5.5</text>
<text x="327.9" y="1071.2">8.5</text>
<text x="333.6" y="1088.9">11.0</text>
</g>
<!-- PCB 3 -->
<g class="d">
<path d="M465.7,880H543.3M465.7,877V925.9M543.3,877V925.9"/>
<path d="M427.3,906.3H600.9M427.3,933.4H492M430.4,906.3V933.4"/>
<path d="M504.2,906.3V1032.9" stroke-dasharray="6,2,1,2"/>
<circle cx="465.7" cy="937.6" r="6.5"/><circle cx="504.2" cy="933.4" r="6.5"/><circle cx="543.3" cy="937.6" r="6.5"/>
<path d="M456.7,937.6H474.7M465.7,928.6V946.6M495.2,933.4H513.2M534.3,937.6H552.3M543.3,928.6V946.6"/>
<path style="shape-rendering:auto" d="M453,953Q458,952 462,945"/>
<path d="M563,906.3V936M556.7,937.6H565M580.2,906.3V955.2M533.2,955.2H582.6M598.6,906.3V970.1M533.2,970.1H600.9"/>
<path d="M460,984.5L473.7,970.1"/>
<path d="M473.7,975V1032M485,975V1022M496.7,975V1014M499.5,975V1014M512,975V992M524.5,975V1022"/>
<path d="M493.2,988.2H503.8M512.7,988.2H559M486.1,1001.6H497.2M506.1,1001.6H554.3M442.6,1011.2H496.7M505,1011.2H515.5M485,1019.9H524.5M525,1019.9H557.9M439.1,1028.9H504.2"/>
<path d="M419.1,1052.8H587.3M419.1,1054.7H587.3" stroke-width="0.8"/>
</g>
<g class="d" stroke-width="0.8">
<path d="M480.5,955.2H488.5M484.5,951.2V959.2M492.7,955.2H500.7M496.7,951.2V959.2M508,955.2H516M512,951.2V959.2M520.5,955.2H528.5M524.5,951.2V959.2"/>
<path d="M469.7,970.1H477.7M473.7,966.1V974.1M481,970.1H489M485,966.1V974.1M495.5,970.1H503.5M499.5,966.1V974.1M508,970.1H516M512,966.1V974.1M520.5,970.1H528.5M524.5,966.1V974.1"/>
<circle cx="484.5" cy="955.2" r="2.2"/><circle cx="496.7" cy="955.2" r="2.2"/><circle cx="512" cy="955.2" r="2.2"/><circle cx="524.5" cy="955.2" r="2.2"/>
<circle cx="473.7" cy="970.1" r="2.2"/><circle cx="485" cy="970.1" r="2.2"/><circle cx="499.5" cy="970.1" r="2.2"/><circle cx="512" cy="970.1" r="2.2"/><circle cx="524.5" cy="970.1" r="2.2"/>
</g>
<g class="t" text-anchor="middle">
<text x="504.2" y="877.6">13.5</text>
<text x="503.3" y="902.3" textLength="57" lengthAdjust="spacingAndGlyphs">PCB&#160; EDGE</text>
<text transform="translate(425.7,917.6) rotate(-90)" y="4">4.7</text>
<text x="431.3" y="956" textLength="37.5" lengthAdjust="spacingAndGlyphs" style="font-weight:normal">3−ø2.2</text>
<text x="484.5" y="947.5" style="font-weight:normal">5</text>
<text x="498.6" y="947.5" style="font-weight:normal">2</text>
<text x="512" y="947.5" style="font-weight:normal">1</text>
<text x="524.2" y="947.5" style="font-weight:normal">3</text>
<text x="467.3" y="967" style="font-weight:normal">9</text>
<text x="480.3" y="967" style="font-weight:normal">8</text>
<text x="492.5" y="967" style="font-weight:normal">7</text>
<text x="517.4" y="967" style="font-weight:normal">4</text>
<text x="529.6" y="967" style="font-weight:normal">6</text>
<text x="437.9" y="988.2" textLength="39" lengthAdjust="spacingAndGlyphs" style="font-weight:normal">9−ø0.9</text>
<text transform="translate(557.9,922.3) rotate(-90)" y="4" style="font-weight:normal">5.5</text>
<text transform="translate(574.3,930.6) rotate(-90)" y="4" style="font-weight:normal">8.5</text>
<text transform="translate(592,937.6) rotate(-90)" y="4" style="font-weight:normal">11.0</text>
<text x="548.5" y="984.6">1.3</text>
<text x="542.6" y="998.3">0.9</text>
<text x="453.2" y="1008.6">1.3</text>
<text x="543.8" y="1016.4">6.81</text>
<text x="453.2" y="1025.8">5.38</text>
<text x="504.35" y="1050.5" textLength="161.1" lengthAdjust="spacingAndGlyphs" style="font-size:11px">P.C.B.&#160; RECOMMEND&#160; LAYOUT</text>
<text x="502.1" y="1064.1" textLength="77.6" lengthAdjust="spacingAndGlyphs" style="font-size:11px">BOTTOM&#160; VIEW</text>
</g>
<!-- arrowheads -->
<path fill="#231f20" d="M162.8,161.1L166.4,160.0L166.4,162.2ZM244.0,161.1L240.4,160.0L240.4,162.2ZM307.5,162.2L311.1,161.1L311.1,163.3ZM384.1,162.2L380.5,161.1L380.5,163.3ZM467.4,167.1L471.0,166.0L471.0,168.2ZM542.4,167.1L538.8,166.0L538.8,168.2ZM171.1,319.5L174.7,318.4L174.7,320.6ZM203.3,319.5L199.7,318.4L199.7,320.6ZM183.6,337.1L187.2,336.0L187.2,338.2ZM224.9,337.1L221.3,336.0L221.3,338.2ZM307.4,316.6L311.0,315.5L311.0,317.7ZM336.4,316.6L332.8,315.5L332.8,317.7ZM307.4,334.7L311.0,333.6L311.0,335.8ZM340.4,334.7L336.8,333.6L336.8,335.8ZM307.4,353.5L311.0,352.4L311.0,354.6ZM357.6,353.5L354.0,352.4L354.0,354.6ZM307.4,369.1L311.0,368.0L311.0,370.2ZM372.5,369.1L368.9,368.0L368.9,370.2ZM474.9,299.5L478.5,298.4L478.5,300.6ZM504.3,299.5L500.7,298.4L500.7,300.6ZM485.6,313.6L489.2,312.5L489.2,314.7ZM523.5,313.6L519.9,312.5L519.9,314.7ZM136.6,514.7L140.2,513.6L140.2,515.8ZM215.6,514.7L212.0,513.6L212.0,515.8ZM276.3,514.7L279.9,513.6L279.9,515.8ZM297.2,514.7L293.6,513.6L293.6,515.8ZM297.2,514.7L300.8,513.6L300.8,515.8ZM365.7,514.7L362.1,513.6L362.1,515.8ZM431.0,507.9L434.6,506.8L434.6,509.0ZM508.7,507.9L505.1,506.8L505.1,509.0ZM297.2,658.9L300.8,657.8L300.8,660.0ZM322.5,658.9L318.9,657.8L318.9,660.0ZM297.2,673.2L300.8,672.1L300.8,674.3ZM325.6,673.2L322.0,672.1L322.0,674.3ZM297.2,688.9L300.8,687.8L300.8,690.0ZM341.6,688.9L338.0,687.8L338.0,690.0ZM297.2,702.5L300.8,701.4L300.8,703.6ZM354.7,702.5L351.1,701.4L351.1,703.6ZM147.6,669.0L151.2,667.9L151.2,670.1ZM176.1,669.0L172.5,667.9L172.5,670.1ZM157.1,698.5L160.7,697.4L160.7,699.6ZM194.2,698.5L190.6,697.4L190.6,699.6ZM176.1,687.1L179.7,686.0L179.7,688.2ZM212.3,687.1L208.7,686.0L208.7,688.2ZM439.5,637.8L443.1,636.7L443.1,638.9ZM470.9,637.8L467.3,636.7L467.3,638.9ZM450.7,656.9L454.3,655.8L454.3,658.0ZM489.2,656.9L485.6,655.8L485.6,658.0ZM141.7,879.8L145.3,878.7L145.3,880.9ZM231.4,879.8L227.8,878.7L227.8,880.9ZM300.0,880.0L303.6,878.9L303.6,881.1ZM382.5,880.0L378.9,878.9L378.9,881.1ZM465.7,880.0L469.3,878.9L469.3,881.1ZM543.3,880.0L539.7,878.9L539.7,881.1ZM299.4,1035.7L303.0,1034.6L303.0,1036.8ZM331.2,1035.7L327.6,1034.6L327.6,1036.8ZM299.4,1055.3L303.0,1054.2L303.0,1056.4ZM335.5,1055.3L331.9,1054.2L331.9,1056.4ZM299.4,1074.7L303.0,1073.6L303.0,1075.8ZM354.2,1074.7L350.6,1073.6L350.6,1075.8ZM299.4,1091.8L303.0,1090.7L303.0,1092.9ZM370.3,1091.8L366.7,1090.7L366.7,1092.9ZM164.5,1088.6L168.1,1087.5L168.1,1089.7ZM208.4,1088.6L204.8,1087.5L204.8,1089.7ZM152.4,1035.6L156.0,1034.5L156.0,1036.7ZM186.7,1035.6L183.1,1034.5L183.1,1036.7ZM473.7,1028.9L477.3,1027.8L477.3,1030.0ZM504.2,1028.9L500.6,1027.8L500.6,1030.0ZM485.0,1019.9L488.6,1018.8L488.6,1021.0ZM524.5,1019.9L520.9,1018.8L520.9,1021.0ZM130.2,190.4L129.1,194.0L131.3,194.0ZM130.2,266.1L129.1,262.5L131.3,262.5ZM130.2,266.1L129.1,269.7L131.3,269.7ZM130.2,288.3L129.1,284.7L131.3,284.7ZM272.9,228.0L271.8,231.6L274.0,231.6ZM272.9,266.1L271.8,262.5L274.0,262.5ZM272.9,266.1L271.8,269.7L274.0,269.7ZM272.9,288.3L271.8,284.7L274.0,284.7ZM433.8,192.7L432.7,196.3L434.9,196.3ZM433.8,218.5L432.7,214.9L434.9,214.9ZM561.2,192.7L560.1,196.3L562.3,196.3ZM561.2,223.3L560.1,219.7L562.3,219.7ZM577.3,192.7L576.2,196.3L578.4,196.3ZM577.3,240.1L576.2,236.5L578.4,236.5ZM594.1,192.7L593.0,196.3L595.2,196.3ZM594.1,254.4L593.0,250.8L595.2,250.8ZM108.6,539.5L107.5,543.1L109.7,543.1ZM108.6,615.3L107.5,611.7L109.7,611.7ZM108.6,615.3L107.5,618.9L109.7,618.9ZM108.6,634.8L107.5,631.2L109.7,631.2ZM235.5,581.3L234.4,584.9L236.6,584.9ZM235.5,615.3L234.4,611.7L236.6,611.7ZM235.5,615.3L234.4,618.9L236.6,618.9ZM235.5,634.8L234.4,631.2L236.6,631.2ZM397.4,534.3L396.3,537.9L398.5,537.9ZM397.4,560.5L396.3,556.9L398.5,556.9ZM528.0,534.3L526.9,537.9L529.1,537.9ZM528.0,565.0L526.9,561.4L529.1,561.4ZM544.1,534.3L543.0,537.9L545.2,537.9ZM544.1,581.8L543.0,578.2L545.2,578.2ZM561.6,534.3L560.5,537.9L562.7,537.9ZM561.6,596.4L560.5,592.8L562.7,592.8ZM117.7,895.9L116.6,899.5L118.8,899.5ZM117.7,978.1L116.6,974.5L118.8,974.5ZM117.7,978.1L116.6,981.7L118.8,981.7ZM117.7,1002.3L116.6,998.7L118.8,998.7ZM262.3,937.2L261.2,940.8L263.4,940.8ZM262.3,978.1L261.2,974.5L263.4,974.5ZM262.3,978.1L261.2,981.7L263.4,981.7ZM262.3,1000.3L261.2,996.7L263.4,996.7ZM430.4,906.3L429.3,909.9L431.5,909.9ZM430.4,933.4L429.3,929.8L431.5,929.8ZM563.0,906.3L561.9,909.9L564.1,909.9ZM563.0,937.6L561.9,934.0L564.1,934.0ZM580.2,906.3L579.1,909.9L581.3,909.9ZM580.2,955.2L579.1,951.6L581.3,951.6ZM598.6,906.3L597.5,909.9L599.7,909.9ZM598.6,970.1L597.5,966.5L599.7,966.5Z"/>
<!-- ===== PHOTOS ===== -->
<defs>
<linearGradient id="gTop" x1="0" y1="0" x2="1" y2="1"><stop offset="0" stop-color="#f6f6f6"/><stop offset="1" stop-color="#ececec"/></linearGradient>
<linearGradient id="gFront" x1="0" y1="0" x2="1" y2="0"><stop offset="0" stop-color="#ececec"/><stop offset="1" stop-color="#e2e2e2"/></linearGradient>
<linearGradient id="gRight" x1="0" y1="0" x2="1" y2="0"><stop offset="0" stop-color="#cfcfcf"/><stop offset="1" stop-color="#bdbdbd"/></linearGradient>
<linearGradient id="gFront2" x1="0" y1="0" x2="1" y2="0"><stop offset="0" stop-color="#cdcdcd"/><stop offset="1" stop-color="#c2c2c2"/></linearGradient>
<linearGradient id="gRight2" x1="0" y1="0" x2="1" y2="0"><stop offset="0" stop-color="#b3b3b3"/><stop offset="1" stop-color="#a5a5a5"/></linearGradient>
<radialGradient id="gSock" cx="0.45" cy="0.45" r="0.6"><stop offset="0" stop-color="#7a7a7a"/><stop offset="1" stop-color="#585858"/></radialGradient>
</defs>
<!-- photo 1 -->
<g>
<path d="M725.8,296H737.5V316.3H725.8Z" fill="#c4c4c4"/>
<path d="M728,296H731V316H728Z" fill="#9c9c9c"/>
<path d="M764,263L769.5,260L769.5,270L764,273Z" fill="#2a2a2a"/>
<path style="shape-rendering:auto" d="M639.2,197.8L707.6,233.1L707.6,310.4L700,306L664,285L639.2,272.6Z" fill="url(#gFront)"/>
<path style="shape-rendering:auto" d="M707.6,233.1L770.3,199.5L769.5,262L740,287.7L707.6,310.4Z" fill="url(#gRight)"/>
<path d="M740,217.2L770.3,199.5L769.5,262L740,287.7Z" fill="#c2c2c2"/>
<path d="M739.6,217.2V287.7" stroke="#e0e0e0" stroke-width="1"/>
<path style="shape-rendering:auto" d="M639.2,197.8L703.1,161.4L770.3,199.5L707.6,233.1Z" fill="url(#gTop)"/>
<path style="shape-rendering:auto" d="M639.2,197.8L707.6,233.1L770.3,199.5" fill="none" stroke="#fbfbfb" stroke-width="1.5"/>
<g transform="rotate(14 674.5 252.6)">
<ellipse cx="674.5" cy="252.6" rx="25.5" ry="32.8" fill="#f7f7f7"/>
<ellipse cx="674.5" cy="252.6" rx="22.9" ry="30.2" fill="#1b1b1b"/>
<ellipse cx="672.6" cy="254" rx="20.6" ry="28.2" fill="#6f7173"/>
</g>
<g fill="#161616">
<ellipse cx="663.1" cy="236.5" rx="2.9" ry="3.4"/><ellipse cx="673.2" cy="241.9" rx="2.9" ry="3.4"/><ellipse cx="660.1" cy="246.3" rx="2.9" ry="3.4"/><ellipse cx="683.6" cy="248.6" rx="2.9" ry="3.4"/><ellipse cx="668.2" cy="250.6" rx="2.9" ry="3.4"/><ellipse cx="676.3" cy="255.3" rx="2.9" ry="3.4"/><ellipse cx="685.3" cy="260" rx="2.9" ry="3.4"/>
<path style="shape-rendering:auto" d="M663,258L682,267L682,275L664,266Z"/>
</g>
<path d="M723,242V246M723,278V282M756,242V246" stroke="#ececec" stroke-width="2"/>
</g>
<!-- photo 2 -->
<g>
<path d="M731,633H738V670.3H731Z" fill="#b4b4b4"/>
<path d="M733,633H735V670H733Z" fill="#d0d0d0"/>
<path d="M638.3,547.4L708.8,586.7L708.8,661.3L638.3,623Z" fill="#9c9c9c"/>
<path d="M638.3,547.4L660,559.5L650,575L638.3,580Z" fill="#7c7c7c"/>
<path style="shape-rendering:auto" d="M708.8,586.7L772.3,548.4L772.3,625L708.8,661.3Z" fill="url(#gRight2)"/>
<path d="M744.1,565.7L772.3,548.4L772.3,625L744.1,641Z" fill="#b0b0b0"/>
<path d="M744.1,565.7V641" stroke="#d2d2d2" stroke-width="1"/>
<path style="shape-rendering:auto" d="M638.3,547.4L701.8,509.1L772.3,548.4L708.8,586.7Z" fill="url(#gTop)"/>
<path style="shape-rendering:auto" d="M638.3,547.4L708.8,586.7L772.3,548.4" fill="none" stroke="#f6f6f6" stroke-width="1.5"/>
<path d="M648,560L700,588L705,650L650,622Z" fill="#b9b9b9"/>
<ellipse cx="671.6" cy="601.6" rx="32" ry="39" fill="#d6d6d6"/>
<ellipse cx="671.3" cy="602.8" rx="23.5" ry="30.5" fill="#bdbdbd"/>
<ellipse cx="671" cy="602.8" rx="22.8" ry="29.9" fill="#5f5f5f"/>
<path d="M652,590Q660,572 676,574Q690,578 692,596Q682,582 668,582Q658,584 652,590Z" fill="#1e1e1e"/>
<g fill="#2e2e2e">
<circle cx="662.5" cy="587" r="2.3"/><circle cx="672.5" cy="593.5" r="2.3"/><circle cx="660" cy="597.5" r="2.3"/><circle cx="667.5" cy="602.5" r="2.3"/><circle cx="675" cy="607" r="2.3"/>
<path style="shape-rendering:auto" d="M663,611L682,618L681,626L663,619Z"/>
<path style="shape-rendering:auto" d="M685,622L691,621L690,629L685,627Z"/>
</g>
<path d="M615.5,555.4L623,554L695,597L706,654.6L699,656.5L688.5,602L627,566L658,628L654,632L619,567Z" fill="#b6b6b6"/>
<path style="shape-rendering:auto" d="M623,554L695,597L706,654.6" fill="none" stroke="#dcdcdc" stroke-width="1.1"/>
<path style="shape-rendering:auto" d="M615.5,555.4L619,567L654,632" fill="none" stroke="#8e8e8e" stroke-width="0.9"/>
<path d="M725,593V599M725,627V633M757.5,588V600" stroke="#dadada" stroke-width="2.2"/>
</g>
<!-- photo 3 -->
<g>
<path d="M735,1022H744V1043H735Z" fill="#c2c2c2"/>
<path d="M737,1022H740V1043H737Z" fill="#9d9d9d"/>
<path style="shape-rendering:auto" d="M643.2,918.4L713.7,957.7L713.7,1031.3L643.2,995Z" fill="url(#gFront)"/>
<path style="shape-rendering:auto" d="M713.7,957.7L776.2,920.4L776.2,1007L713.7,1031.3Z" fill="url(#gRight)"/>
<path d="M747,937.7L776.2,920.4L776.2,1007L747,1018Z" fill="#c0c0c0"/>
<path d="M747,937.7V1018" stroke="#e0e0e0" stroke-width="1"/>
<path style="shape-rendering:auto" d="M643.2,918.4L706.7,881.1L776.2,920.4L713.7,957.7Z" fill="url(#gTop)"/>
<path style="shape-rendering:auto" d="M643.2,918.4L713.7,957.7L776.2,920.4" fill="none" stroke="#fbfbfb" stroke-width="1.5"/>
<g transform="rotate(20 677.5 974.7)">
<ellipse cx="677.5" cy="974.7" rx="25.5" ry="32.5" fill="#f7f7f7"/>
<ellipse cx="677.5" cy="974.7" rx="23.5" ry="30.2" fill="#1b1b1b"/>
<ellipse cx="676" cy="976.5" rx="21.8" ry="28.2" fill="#595b5d"/>
</g>
<g fill="#141414">
<ellipse cx="667.1" cy="959.5" rx="2.3" ry="2.8"/><ellipse cx="677.2" cy="965.6" rx="2.3" ry="2.8"/><ellipse cx="664.4" cy="970" rx="2.3" ry="2.8"/><ellipse cx="687.3" cy="971.6" rx="2.3" ry="2.8"/><ellipse cx="671.8" cy="974.7" rx="2.3" ry="2.8"/><ellipse cx="679.6" cy="978.7" rx="2.3" ry="2.8"/><ellipse cx="690" cy="984.7" rx="2.3" ry="2.8"/><ellipse cx="672.2" cy="986.1" rx="2.3" ry="2.8"/><ellipse cx="682.3" cy="992.1" rx="2.3" ry="2.8"/>
<path style="shape-rendering:auto" d="M690,993L698,998L692,1001Z"/>
</g>
<path d="M730.5,967V973M730.5,1000V1006M762.5,961V975" stroke="#e2e2e2" stroke-width="2.2"/>
</g>
</svg>
</body></html>
